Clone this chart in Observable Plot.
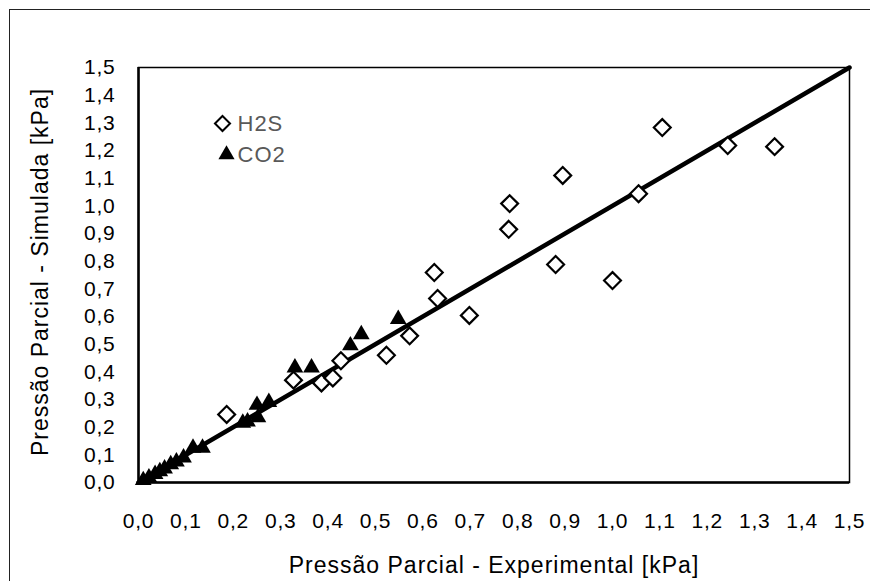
<!DOCTYPE html>
<html>
<head>
<meta charset="utf-8">
<script src="https://cdn.jsdelivr.net/npm/d3@7"></script>
<script src="https://cdn.jsdelivr.net/npm/@observablehq/plot@0.6"></script>
<style>
  html, body { margin: 0; padding: 0; background: #fff; }
  #wrap { position: relative; width: 870px; height: 581px; overflow: hidden; }
  #border { position: absolute; left: 9px; top: 9px; width: 900px; height: 700px;
            border-left: 1.5px solid #222; border-top: 1.5px solid #222; pointer-events: none; }
  svg { font-family: "Liberation Sans", Arial, sans-serif; }
</style>
</head>
<body>
<div id="wrap"><div id="border"></div></div>
<script>
// H2S: experimental vs simulated partial pressure [kPa]
const h2sExp = [0.186, 0.327, 0.386, 0.410, 0.427, 0.523, 0.572, 0.624, 0.631, 0.698, 0.781, 0.783, 0.880, 0.895, 1.000, 1.055, 1.105, 1.243, 1.342];
const h2sSim = [0.246, 0.370, 0.360, 0.378, 0.440, 0.460, 0.530, 0.759, 0.665, 0.604, 0.915, 1.008, 0.788, 1.110, 0.730, 1.044, 1.283, 1.218, 1.214];
// CO2
const co2Exp = [0.010, 0.022, 0.035, 0.045, 0.055, 0.068, 0.080, 0.095, 0.115, 0.135, 0.220, 0.230, 0.252, 0.250, 0.275, 0.330, 0.365, 0.447, 0.470, 0.548];
const co2Sim = [0.008, 0.018, 0.030, 0.040, 0.050, 0.065, 0.075, 0.090, 0.125, 0.125, 0.215, 0.220, 0.235, 0.280, 0.290, 0.415, 0.415, 0.495, 0.535, 0.590];
// y = x reference line
const lineX = [0, 1.5];
const ticks = [0, 0.1, 0.2, 0.3, 0.4, 0.5, 0.6, 0.7, 0.8, 0.9, 1.0, 1.1, 1.2, 1.3, 1.4, 1.5];
const xTitle = "Pressão Parcial - Experimental [kPa]";
const yTitle = "Pressão Parcial - Simulada [kPa]";
const seriesNames = ["H2S", "CO2"];

const h2s = h2sExp.map((x, i) => ({x, y: h2sSim[i]}));
const co2 = co2Exp.map((x, i) => ({x, y: co2Sim[i]}));
const line = lineX.map(x => ({x, y: x}));
const fmt = d => d3.format(".1f")(d).replace(".", ",");

const chart = Plot.plot({
  width: 870,
  height: 581,
  marginLeft: 138,
  marginTop: 67,
  marginRight: 21,
  marginBottom: 99,
  style: {fontFamily: "Liberation Sans, Arial, sans-serif", fontSize: "21px", background: "transparent", overflow: "visible"},
  x: {domain: [0, 1.5], ticks, tickFormat: fmt},
  y: {domain: [0, 1.5], ticks, tickFormat: fmt},
  marks: [
    Plot.axisX({ticks, tickFormat: fmt, tickSize: 0, tickPadding: 31, fontSize: 21, fill: "#000", label: null}),
    Plot.axisY({ticks, tickFormat: fmt, tickSize: 0, tickPadding: 23, fontSize: 21, fill: "#000", label: null}),
    Plot.frame({stroke: "#000", strokeWidth: 1.5}),
    Plot.ruleX([0], {stroke: "#000", strokeWidth: 2.5}),
    Plot.ruleY([0], {stroke: "#000", strokeWidth: 2.5}),
    Plot.line(line, {x: "x", y: "y", stroke: "#000", strokeWidth: 4.5}),
    Plot.dot(h2s, {x: "x", y: "y", symbol: "diamond2", r: 7.6, stroke: "#000", strokeWidth: 2.2, fill: "#fff"}),
    Plot.dot(co2, {x: "x", y: "y", symbol: "triangle", r: 6.2, fill: "#000", stroke: "none"}),
    // legend
    Plot.dot([seriesNames[0]], {frameAnchor: "top-left", dx: 84, dy: 56, symbol: "diamond2", r: 6.8, stroke: "#000", strokeWidth: 2, fill: "#fff"}),
    Plot.dot([seriesNames[1]], {frameAnchor: "top-left", dx: 88, dy: 87, symbol: "triangle", r: 6, fill: "#000"}),
    Plot.text([seriesNames[0]], {text: d => d, frameAnchor: "top-left", dx: 99, dy: 56, textAnchor: "start", lineAnchor: "middle", fill: "#595959", fontSize: 22}),
    Plot.text([seriesNames[1]], {text: d => d, frameAnchor: "top-left", dx: 99, dy: 87, textAnchor: "start", lineAnchor: "middle", fill: "#595959", fontSize: 22}),
    // axis titles
    Plot.text([xTitle], {text: d => d, frameAnchor: "bottom", dy: 83, textAnchor: "middle", lineAnchor: "middle", fill: "#000", fontSize: 23}),
    Plot.text([yTitle], {text: d => d, frameAnchor: "left", dx: -98, dy: -3, rotate: -90, textAnchor: "middle", lineAnchor: "middle", fill: "#000", fontSize: 23})
  ]
});
document.getElementById("wrap").appendChild(chart);
chart.style.position = "absolute";
chart.style.left = "0px";
chart.style.top = "0px";
// widen glyph spacing to match the wider reference font
chart.querySelectorAll("text").forEach(t => {
  const s = t.textContent;
  if (s === xTitle || s === yTitle || s === seriesNames[0] || s === seriesNames[1]) t.setAttribute("letter-spacing", "1");
  else if (/^\d,\d$/.test(s)) {
    t.style.fontSize = "21px";
    t.style.letterSpacing = "0.8px";
  }
});
</script>
</body>
</html>
